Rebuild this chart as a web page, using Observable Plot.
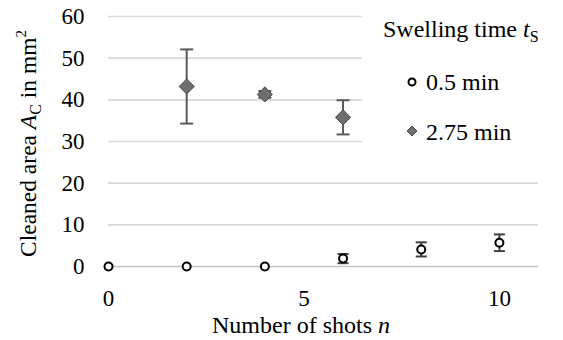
<!DOCTYPE html>
<html><head><meta charset="utf-8">
<script src="https://cdn.jsdelivr.net/npm/d3@7"></script>
<script src="https://cdn.jsdelivr.net/npm/@observablehq/plot@0.6"></script>
<style>
body{margin:0;background:#fff}
#chart{width:563px;height:340px}
</style></head><body><div id="chart"></div>
<script>
// Data
const shots05 = [0, 2, 4, 6, 8, 10];
const area05 = [0, 0, 0, 1.9, 4.1, 5.7];
const err05 = [0, 0, 0, 1.1, 1.7, 2.0];
const shots275 = [2, 4, 6];
const area275 = [43.2, 41.3, 35.8];
const err275 = [8.9, 0.8, 4.1];
const yTicks = [0, 10, 20, 30, 40, 50, 60];
const xTicks = [0, 5, 10];
const seriesNames = ["0.5 min", "2.75 min"];
const legendTitle = ["Swelling time ", "t", "S"];
const xTitle = ["Number of shots ", "n"];
const yTitle = ["Cleaned area ", "A", "C", " in mm", "2"];

const s05 = shots05.map((n, i) => ({n, a: area05[i], e: err05[i]}));
const s275 = shots275.map((n, i) => ({n, a: area275[i], e: err275[i]}));
const s05e = s05.filter(d => d.e > 0);

const hline = {draw(ctx, size) {const r = Math.sqrt(size / Math.PI); ctx.moveTo(-r, 0); ctx.lineTo(r, 0);}};
const FONT = "'Liberation Serif', 'Times New Roman', Times, 'DejaVu Serif', serif";

const plot = Plot.plot({
  width: 563, height: 340,
  marginTop: 16, marginBottom: 74, marginLeft: 108, marginRight: 25,
  style: {fontFamily: FONT, fontSize: "23px", color: "#000", background: "white"},
  x: {domain: [0, 11], ticks: xTicks, tickSize: 0, tickPadding: 23, label: null},
  y: {domain: [0, 60], ticks: yTicks, tickSize: 0, tickPadding: 24, label: null},
  marks: [
    Plot.gridY(yTicks.filter(t => t > 0), {stroke: "#d9d9d9", strokeOpacity: 1, strokeWidth: 1.6}),
    Plot.ruleY([0], {stroke: "#c4c4c4", strokeWidth: 1.6}),
    Plot.ruleX(s275, {x: "n", y1: d => d.a - d.e, y2: d => d.a + d.e, stroke: "#595959", strokeWidth: 2}),
    Plot.dot(s275, {x: "n", y: d => d.a + d.e, symbol: hline, r: 6.5, fill: "none", stroke: "#595959", strokeWidth: 2}),
    Plot.dot(s275, {x: "n", y: d => d.a - d.e, symbol: hline, r: 6.5, fill: "none", stroke: "#595959", strokeWidth: 2}),
    Plot.ruleX(s05e, {x: "n", y1: d => d.a - d.e, y2: d => d.a + d.e, stroke: "#404040", strokeWidth: 2}),
    Plot.dot(s05e, {x: "n", y: d => d.a + d.e, symbol: hline, r: 5.5, fill: "none", stroke: "#404040", strokeWidth: 2}),
    Plot.dot(s05e, {x: "n", y: d => d.a - d.e, symbol: hline, r: 5.5, fill: "none", stroke: "#404040", strokeWidth: 2}),
    Plot.dot(s275, {x: "n", y: "a", symbol: "diamond2", r: 6.8, fill: "#6e6e6e", stroke: "#4a4a4a", strokeWidth: 1}),
    Plot.dot(s05, {x: "n", y: "a", symbol: "circle", r: 4, fill: "white", stroke: "#000", strokeWidth: 2})
  ]
});
document.getElementById("chart").appendChild(plot);

const svg = d3.select(plot);
const tfs = "24px";
function txt(sel) {return sel.append("text").style("font-family", FONT).style("font-size", tfs).attr("fill", "#000");}
// y title
const yt = txt(svg).attr("transform", "translate(36,143.5) rotate(-90)").attr("text-anchor", "middle").style("font-size", "23.5px");
yt.append("tspan").text(yTitle[0]);
yt.append("tspan").style("font-style", "italic").text(yTitle[1]);
yt.append("tspan").attr("dy", 5).style("font-size", "16px").text(yTitle[2]);
yt.append("tspan").attr("dy", -5).text(yTitle[3]);
yt.append("tspan").attr("dy", -10).style("font-size", "15px").text(yTitle[4]);
// x title
const xt = txt(svg).attr("x", 301).attr("y", 333).attr("text-anchor", "middle");
xt.append("tspan").text(xTitle[0]);
xt.append("tspan").style("font-style", "italic").text(xTitle[1]);
// legend
const lg = svg.append("g");
lg.append("rect").attr("x", 362).attr("y", 0).attr("width", 201).attr("height", 160).attr("fill", "white");
const lt = txt(lg).attr("x", 383).attr("y", 37).attr("text-anchor", "start");
lt.append("tspan").text(legendTitle[0]);
lt.append("tspan").style("font-style", "italic").text(legendTitle[1]);
lt.append("tspan").attr("dy", 5).style("font-size", "16px").text(legendTitle[2]);
lg.append("circle").attr("cx", 412).attr("cy", 82).attr("r", 3.5).attr("fill", "white").attr("stroke", "#000").attr("stroke-width", 2);
lg.append("path").attr("d", "M412,126L417,131L412,136L407,131Z").attr("fill", "#6e6e6e").attr("stroke", "#4a4a4a");
txt(lg).attr("x", 426).attr("y", 90).attr("text-anchor", "start").text(seriesNames[0]);
txt(lg).attr("x", 426).attr("y", 140).attr("text-anchor", "start").text(seriesNames[1]);
</script></body></html>
